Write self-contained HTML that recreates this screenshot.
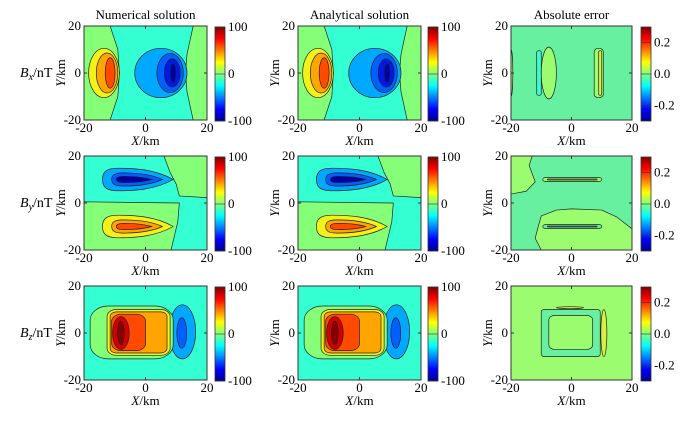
<!DOCTYPE html>
<html><head><meta charset="utf-8"><style>
html,body{margin:0;padding:0;background:#fff;}
svg, svg text, svg tspan{font-family:"Liberation Serif","Times New Roman",serif !important;}
</style></head><body>
<svg id="fig" width="688" height="416" viewBox="0 0 688 416" xmlns="http://www.w3.org/2000/svg" font-family="Liberation Serif, serif">
<defs>
<linearGradient id="jet" x1="0" y1="1" x2="0" y2="0">
<stop offset="0" stop-color="#00008f"/><stop offset="0.125" stop-color="#0000ff"/><stop offset="0.375" stop-color="#00ffff"/><stop offset="0.625" stop-color="#ffff00"/><stop offset="0.875" stop-color="#ff0000"/><stop offset="1" stop-color="#800000"/>
</linearGradient>
</defs>
</svg>
<script>
// panel layout
const colX=[84,298,511], colW=[123,123,121], rowY=[26,156,286], rowH=94, cbX=[215,428,641];
const titles=["Numerical solution","Analytical solution","Absolute error"];
const rowLabels=[["B","x"],["B","y"],["B","z"]];
const xTicks=[-20,0,20], yTicks=[-20,0,20];
const cbTicksField=[100,0,-100], cbRangeField=[-100,100];
const cbTicksErr=[0.2,0.0,-0.2], cbRangeErr=[-0.3,0.3];
const C={g:"#86ff78",c:"#33ffd2",y:"#f2f21a",o:"#ffa500",r:"#ff4a00",dr:"#d40000",k:"#8a0000",lb:"#00a8ff",b:"#0060ff",db:"#0018e8",n:"#0000a8",m:"#66f0a0",lg:"#9cfc70",yg:"#d8f040"};
// field shapes (data units)
const bxShapes=[
 {t:"bg",f:"c"},
 {t:"poly",f:"g",p:[[-20,20],[-11.5,20],[-9,10],[-8.5,0],[-9,-10],[-11.5,-20],[-20,-20]]},
 {t:"poly",f:"g",p:[[15.5,20],[20,20],[20,-20],[15.5,-20],[13.5,-8],[13,0],[13.5,8]]},
 {t:"ell",f:"y",cx:-13.5,cy:0,rx:5,ry:10.5},
 {t:"ell",f:"o",cx:-12.5,cy:0,rx:3.5,ry:8.5},
 {t:"ell",f:"r",cx:-11.5,cy:0,rx:1.6,ry:6.5},
 {t:"ell",f:"lb",cx:5,cy:0,rx:8.5,ry:10.5},
 {t:"ell",f:"b",cx:8,cy:0,rx:4.3,ry:8.3},
 {t:"ell",f:"db",cx:8.7,cy:0,rx:2.6,ry:6},
 {t:"ell",f:"n",cx:9,cy:0,rx:0.9,ry:4}
];
const byShapes=[
 {t:"bg",f:"c"},
 {t:"poly",f:"g",p:[[-20,0.5],[11,0],[10.5,-8],[8.3,-20],[-20,-20]]},
 {t:"poly",f:"g",p:[[6,20],[20,20],[20,2.3],[11,3],[10,8],[8,13]]},
 {t:"drop",f:"lb",x0:-14,x1:9,cy:10,ry:4.8},
 {t:"drop",f:"b",x0:-11,x1:5.5,cy:10,ry:2.8},
 {t:"drop",f:"n",x0:-9.5,x1:2,cy:10,ry:1.3},
 {t:"drop",f:"y",x0:-14,x1:9,cy:-10,ry:4.8},
 {t:"drop",f:"o",x0:-11,x1:5.5,cy:-10,ry:2.8},
 {t:"drop",f:"r",x0:-9.5,x1:2,cy:-10,ry:1.3}
];
const bzShapes=[
 {t:"bg",f:"c"},
 {t:"ell",f:"lb",cx:12,cy:0.5,rx:4.3,ry:11.5},
 {t:"ell",f:"b",cx:11.8,cy:0,rx:1.6,ry:6.5},
 {t:"rr",f:"g",x0:-18,x1:9,y0:-11,y1:11.5,r:6},
 {t:"rr",f:"y",x0:-12.5,x1:8,y0:-9.5,y1:10,r:3},
 {t:"rr",f:"o",x0:-11.5,x1:7,y0:-8.5,y1:9,r:2},
 {t:"rr",f:"r",x0:-11,x1:0,y0:-7.5,y1:8,r:3},
 {t:"ell",f:"dr",cx:-8,cy:0,rx:2.7,ry:7},
 {t:"ell",f:"k",cx:-8,cy:0,rx:1.1,ry:5}
];
const exShapes=[
 {t:"bg",f:"m"},
 {t:"ell",f:"lg",cx:-20,cy:0,rx:0.6,ry:10},
 {t:"rr",f:"c",x0:-11.5,x1:-10,y0:-9.5,y1:9.5,r:0.7},
 {t:"ell",f:"lg",cx:-7.5,cy:0,rx:2.5,ry:11},
 {t:"rr",f:"lg",x0:7.5,x1:10.5,y0:-10.5,y1:10.5,r:1.4},
 {t:"rr",f:"yg",x0:9,x1:10,y0:-9.5,y1:9.5,r:0.5}
];
const eyShapes=[
 {t:"bg",f:"m"},
 {t:"poly",f:"lg",p:[[-20,20],[-13,20],[-14,16],[-12,9],[-15,5],[-20,3.8]]},
 {t:"poly",f:"lg",p:[[-10,-5.5],[-5,-3],[0,-2.5],[10,-3],[15,-6],[20,-11],[20,-20],[-10,-20],[-12,-15],[-11,-10]]},
 {t:"rr",f:"lg",x0:-9.5,x1:10,y0:9.2,y1:10.8,r:0.8},
 {t:"rr",f:"yg",x0:-8,x1:8.5,y0:9.8,y1:10.2,r:0.2},
 {t:"rr",f:"m",x0:-9.5,x1:10,y0:-10.8,y1:-9.2,r:0.8},
 {t:"rr",f:"c",x0:-8,x1:8.5,y0:-10.2,y1:-9.8,r:0.2}
];
const ezShapes=[
 {t:"bg",f:"lg"},
 {t:"rr",f:"m",x0:-10,x1:9.5,y0:-10,y1:10,r:1},
 {t:"rr",f:"lg",x0:-7.5,x1:7,y0:-7,y1:7.5,r:2},
 {t:"ell",f:"yg",cx:10.7,cy:0,rx:1,ry:10},
 {t:"ell",f:"yg",cx:-0.5,cy:10.8,rx:4.5,ry:0.4}
];
const panels=[[bxShapes,bxShapes,exShapes],[byShapes,byShapes,eyShapes],[bzShapes,bzShapes,ezShapes]];

const svg=document.getElementById('fig');
const NS="http://www.w3.org/2000/svg";
const FF="Liberation Serif, serif";
function mk(tag,attrs,parent){const e=document.createElementNS(NS,tag);for(const k in attrs)e.setAttribute(k,attrs[k]);if(tag==='text')e.setAttribute('font-family',FF);(parent||svg).appendChild(e);return e;}

for(let r=0;r<3;r++)for(let c=0;c<3;c++){
 const x0=colX[c],w=colW[c],y0=rowY[r],h=rowH;
 const X=v=>x0+(v+20)/40*w, Y=v=>y0+(20-v)/40*h;
 const g=mk('g',{});
 
 
 const cp=mk('clipPath',{id:'cp'+r+c},g);mk('rect',{x:x0,y:y0,width:w,height:h},cp);
 const inner=mk('g',{'clip-path':'url(#cp'+r+c+')'},g);
 for(const s of panels[r][c]){
  let e;const st={fill:C[s.f],stroke:"#222","stroke-width":0.7};
  if(s.t==="bg"){e=mk('rect',{x:x0,y:y0,width:w,height:h,fill:C[s.f]},inner);}
  else if(s.t==="ell"){e=mk('ellipse',Object.assign({cx:X(s.cx),cy:Y(s.cy),rx:s.rx/40*w,ry:s.ry/40*h},st),inner);}
  else if(s.t==="rr"){e=mk('rect',Object.assign({x:X(s.x0),y:Y(s.y1),width:(s.x1-s.x0)/40*w,height:(s.y1-s.y0)/40*h,rx:s.r/40*w,ry:s.r/40*h},st),inner);}
  else if(s.t==="poly"){e=mk('polygon',Object.assign({points:s.p.map(q=>X(q[0])+','+Y(q[1])).join(' '),'stroke-linejoin':'round'},st),inner);}
  else if(s.t==="drop"){const L=s.x1-s.x0,cy=s.cy,ry=s.ry;const P=(a,b)=>X(a).toFixed(1)+','+Y(b).toFixed(1);
   const d='M'+P(s.x1,cy)+' C'+P(s.x1-0.25*L,cy+0.9*ry)+' '+P(s.x0+0.45*L,cy+ry)+' '+P(s.x0+0.22*L,cy+ry)+
   ' C'+P(s.x0+0.04*L,cy+ry)+' '+P(s.x0,cy+0.6*ry)+' '+P(s.x0,cy)+
   ' C'+P(s.x0,cy-0.6*ry)+' '+P(s.x0+0.04*L,cy-ry)+' '+P(s.x0+0.22*L,cy-ry)+
   ' C'+P(s.x0+0.45*L,cy-ry)+' '+P(s.x1-0.25*L,cy-0.9*ry)+' '+P(s.x1,cy)+'Z';
   e=mk('path',Object.assign({d:d},st),inner);}
  
  
 }
 const fr=mk('rect',{x:x0,y:y0,width:w,height:h,fill:'none',stroke:'#333','stroke-width':1},g);
 
 
 for(const t of xTicks){
  mk('line',{x1:X(t),x2:X(t),y1:y0+h,y2:y0+h-3,stroke:'#333'},g);mk('line',{x1:X(t),x2:X(t),y1:y0,y2:y0+3,stroke:'#333'},g);
  const tl=mk('text',{x:X(t),y:y0+h+12,'font-size':13,'text-anchor':'middle'},g);tl.textContent=(t<0?'-':'')+Math.abs(t);
  
  
 }
 for(const t of yTicks){
  mk('line',{x1:x0,x2:x0+3,y1:Y(t),y2:Y(t),stroke:'#333'},g);mk('line',{x1:x0+w,x2:x0+w-3,y1:Y(t),y2:Y(t),stroke:'#333'},g);
  const tl=mk('text',{x:x0-3,y:Y(t)+4,'font-size':13,'text-anchor':'end'},g);tl.textContent=(t<0?'-':'')+Math.abs(t);
  
  
 }
 const xl=mk('text',{x:x0+w/2,y:y0+h+25,'font-size':13,'text-anchor':'middle'},g);
 xl.innerHTML='<tspan font-style="italic">X</tspan>/km';
 
 
 const yl=mk('text',{x:0,y:0,'font-size':13,'text-anchor':'middle',transform:'translate('+(x0-19)+','+(y0+h/2)+') rotate(-90)'},g);
 yl.innerHTML='<tspan font-style="italic">Y</tspan>/km';
 
 
 const cb=mk('rect',{x:cbX[c],y:y0+1,width:10,height:h,fill:'url(#jet)',stroke:'#333','stroke-width':0.8},g);
 
 
 const ticks=c===2?cbTicksErr:cbTicksField, rng=c===2?cbRangeErr:cbRangeField;
 for(const t of ticks){
  const yy=y0+1+(rng[1]-t)/(rng[1]-rng[0])*h;
  mk('line',{x1:cbX[c],x2:cbX[c]+10,y1:yy,y2:yy,stroke:'#333','stroke-width':0.6},g);
  const tl=mk('text',{x:cbX[c]+13,y:yy+4,'font-size':13},g);
  tl.textContent=c===2?(t<0?'-':'')+Math.abs(t).toFixed(1):String(t);
  
  
 }
 if(r===0){const tt=mk('text',{x:x0+w/2,y:19,'font-size':13,'text-anchor':'middle'},g);tt.textContent=titles[c];
  
  }
 if(c===0){const rl=mk('text',{x:20,y:y0+h/2+4,'font-size':14},g);
  rl.innerHTML='<tspan font-style="italic">'+rowLabels[r][0]+'</tspan><tspan font-style="italic" font-size="10" dy="3">'+rowLabels[r][1]+'</tspan><tspan dy="-3">/nT</tspan>';
  
  }
}
</script>
</body></html>
